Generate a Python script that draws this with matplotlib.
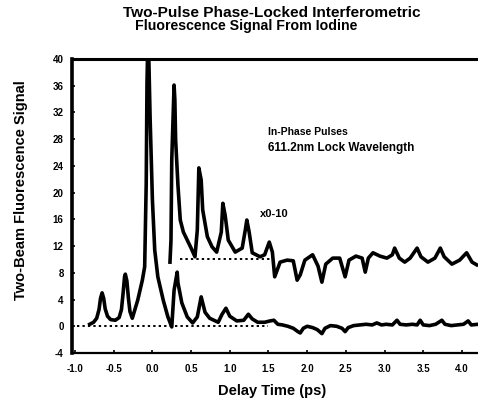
import matplotlib
matplotlib.use("Agg")
import matplotlib.pyplot as plt

# Delay axis (ps) and signal for the direct (lower) trace
lower_t = [-0.81, -0.76, -0.72, -0.69, -0.67, -0.65, -0.63, -0.61, -0.58, -0.54,
           -0.48, -0.43, -0.40, -0.38, -0.36, -0.35, -0.33, -0.31, -0.29, -0.26,
           -0.19, -0.13, -0.10, -0.08, -0.07, -0.06, -0.05, -0.03, 0.00, 0.03,
           0.07, 0.14, 0.20, 0.25, 0.28, 0.32, 0.33, 0.38, 0.45, 0.52,
           0.58, 0.63, 0.68, 0.74, 0.85, 0.90, 0.95, 1.00, 1.09, 1.18,
           1.24, 1.29, 1.36, 1.45, 1.52, 1.57, 1.62, 1.68, 1.75, 1.82,
           1.88, 1.91, 1.95, 2.00, 2.07, 2.13, 2.19, 2.23, 2.30, 2.38,
           2.45, 2.49, 2.53, 2.60, 2.68, 2.76, 2.84, 2.90, 2.96, 3.02,
           3.10, 3.16, 3.20, 3.28, 3.36, 3.42, 3.46, 3.50, 3.58, 3.66,
           3.74, 3.78, 3.86, 3.94, 4.02, 4.08, 4.12, 4.21]
lower_s = [0.3, 0.6, 1.2, 2.5, 4.2, 5.0, 4.2, 2.6, 1.5, 1.0,
           0.9, 1.3, 2.5, 4.8, 7.4, 7.8, 6.8, 4.2, 2.2, 1.2,
           3.9, 6.9, 8.9, 21.4, 36.4, 42.0, 42.0, 31.3, 18.9, 11.4,
           7.4, 3.9, 1.4, -0.1, 5.4, 8.1, 6.5, 3.5, 1.4, 0.5,
           1.4, 4.4, 2.1, 1.2, 0.6, 1.8, 2.7, 1.5, 0.8, 0.9,
           1.8, 1.1, 0.6, 0.6, 0.8, 0.9, 0.3, 0.2, 0.0, -0.3,
           -0.8, -1.0, -0.3, 0.0, -0.2, -0.5, -1.1, -0.3, 0.1, 0.0,
           -0.3, -0.8, -0.2, 0.1, 0.2, 0.3, 0.2, 0.5, 0.2, 0.3,
           0.2, 0.9, 0.3, 0.2, 0.3, 0.2, 0.9, 0.2, 0.1, 0.3,
           0.9, 0.3, 0.1, 0.2, 0.3, 0.8, 0.2, 0.3]

# Magnified trace, offset above the direct one
upper_t = [0.227, 0.24, 0.25, 0.28, 0.29, 0.30, 0.33, 0.36, 0.40, 0.45,
           0.50, 0.55, 0.58, 0.60, 0.63, 0.65, 0.71, 0.77, 0.83, 0.89,
           0.91, 0.94, 0.98, 1.07, 1.16, 1.20, 1.22, 1.25, 1.29, 1.39,
           1.45, 1.51, 1.55, 1.58, 1.65, 1.74, 1.82, 1.87, 1.91, 1.97,
           2.07, 2.14, 2.19, 2.24, 2.33, 2.42, 2.49, 2.54, 2.63, 2.71,
           2.75, 2.79, 2.85, 2.94, 3.03, 3.10, 3.13, 3.19, 3.26, 3.33,
           3.42, 3.47, 3.56, 3.65, 3.72, 3.77, 3.87, 3.97, 4.06, 4.13, 4.19]
upper_s = [9.6, 12.9, 24.9, 36.1, 33.9, 27.9, 21.1, 15.9, 14.1, 12.9,
           11.7, 10.4, 14.4, 23.7, 21.9, 17.4, 13.4, 11.9, 11.1, 14.1,
           18.4, 16.6, 12.9, 11.1, 11.7, 14.4, 15.9, 14.1, 11.0, 10.4,
           10.7, 12.6, 11.1, 7.4, 9.6, 9.9, 9.8, 6.9, 7.7, 9.9,
           10.7, 9.0, 6.6, 9.3, 10.2, 10.2, 7.4, 9.9, 10.5, 10.2,
           8.1, 10.2, 11.0, 10.5, 10.2, 10.7, 11.7, 10.2, 9.6, 10.2,
           11.7, 10.4, 9.6, 10.2, 11.7, 10.4, 9.3, 9.9, 11.0, 9.6, 9.2]

# Reference baselines (value, start, end)
lower_base = (0.0, -0.97, 1.50)
upper_base = (10.0, 0.36, 1.52)

x_ticks = [-1.0, -0.5, 0.0, 0.5, 1.0, 1.5, 2.0, 2.5, 3.0, 3.5, 4.0]
y_ticks = [-4, 0, 4, 8, 12, 16, 20, 24, 28, 32, 36, 40]

plt.rcParams["font.family"] = ["Liberation Sans", "DejaVu Sans"]
plt.rcParams["font.weight"] = "bold"

fig = plt.figure(figsize=(4.78, 4.04), dpi=100)
W, H = 478, 404
ax = fig.add_axes([72 / W, 1 - 353 / H, (478 - 72) / W, (353 - 59) / H])

lw = 2.6
ax.plot(lower_t, lower_s, color="black", lw=lw, solid_joinstyle="round")
ax.plot(upper_t, upper_s, color="black", lw=lw, solid_joinstyle="round")
for val, x0, x1 in (lower_base, upper_base):
    ax.plot([x0, x1], [val, val], color="black", lw=1.4, ls=(0, (1.2, 1.6)))

ax.set_xlim(-1.039, 4.207)
ax.set_ylim(-4, 40)
ax.set_xticks(x_ticks)
ax.set_xticklabels([f"{v:.1f}" for v in x_ticks])
ax.set_yticks(y_ticks)
ax.set_yticklabels([str(v) for v in y_ticks])
ax.tick_params(direction="in", length=2, width=1.2, labelsize=7)
ax.tick_params(axis="x", pad=8)
ax.tick_params(axis="y", pad=6)

ax.spines["right"].set_visible(False)
ax.spines["left"].set_linewidth(2.6)
ax.spines["top"].set_linewidth(2.2)
ax.spines["bottom"].set_linewidth(1.6)

ax.text(1.49, 29.8, "In-Phase Pulses", fontsize=7.5, fontweight="bold",
        va="top", ha="left")
ax.text(1.49, 27.6, "611.2nm Lock Wavelength", fontsize=8.5, fontweight="bold",
        va="top", ha="left")
ax.text(1.39, 16.8, "x0-10", fontsize=8, fontweight="bold", va="center", ha="left")

fig.text(272 / W, 1 - 13 / H, "Two-Pulse Phase-Locked Interferometric",
         fontsize=11.1, fontweight="bold", ha="center", va="center")
fig.text(246 / W, 1 - 26 / H, "Fluorescence Signal From Iodine",
         fontsize=10.2, fontweight="bold", ha="center", va="center")
fig.text(272 / W, 1 - 391 / H, "Delay Time (ps)",
         fontsize=10.5, fontweight="bold", ha="center", va="center")
fig.text(21 / W, 1 - 190 / H, "Two-Beam Fluorescence Signal",
         fontsize=10.5, fontweight="bold", ha="center", va="center", rotation=90)

fig.savefig("out.png", dpi=100)
